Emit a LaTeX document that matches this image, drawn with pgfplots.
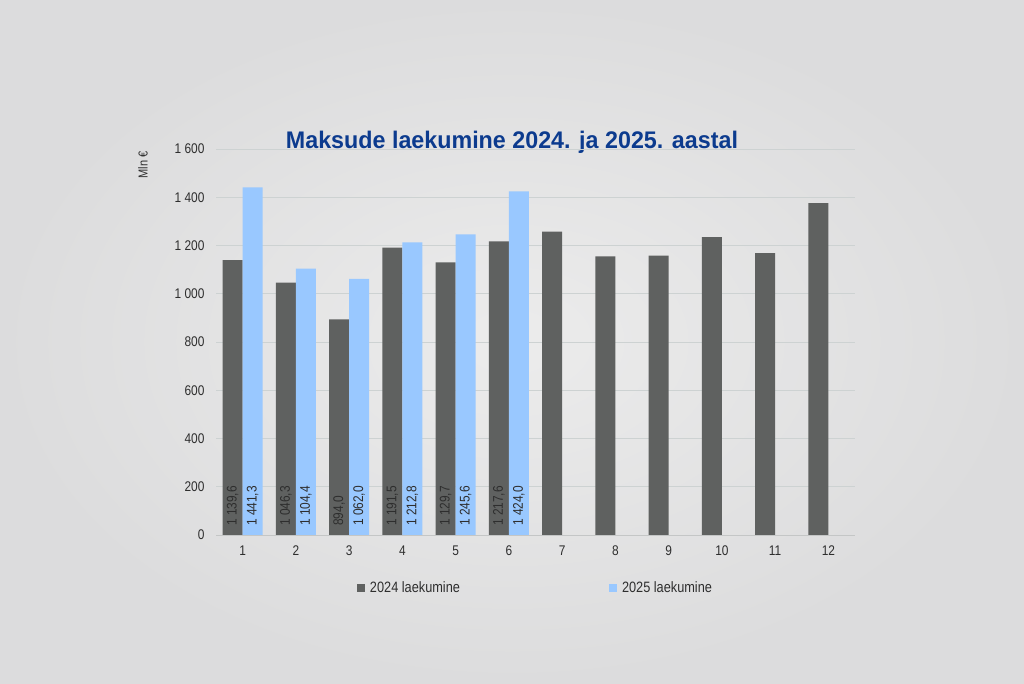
\documentclass[border=0pt]{standalone}
\usepackage{pgfplots}
\pgfplotsset{compat=1.18}
\usepackage{pgfplotstable}
\usepackage{fontspec}
\setmainfont[FakeStretch=0.85]{Liberation Sans}
\newfontfamily\titlefont[FakeStretch=0.97]{Liberation Sans}

\definecolor{dark24}{HTML}{5F6160}
\definecolor{blue25}{HTML}{99C8FF}
\definecolor{titleblue}{HTML}{0C3B8E}
\definecolor{gridc}{HTML}{CDD2D2}
\definecolor{axisc}{HTML}{C4C6C6}
\definecolor{bgin}{HTML}{ECECEC}
\definecolor{bgout}{HTML}{DCDCDD}
\definecolor{txt}{HTML}{2E2E2E}

% Mln EUR per month
\pgfplotstableread{
m v
1 1139.6
2 1046.3
3 894.0
4 1191.5
5 1129.7
6 1217.6
7 1257
8 1155
9 1158
10 1235
11 1168
12 1376
}\tabA
\pgfplotstableread{
m v
1 1441.3
2 1104.4
3 1062.0
4 1212.8
5 1245.6
6 1424.0
}\tabB
% labels sit at the bar base
\pgfplotstableread{
m z a b
1 0 1139.6 1441.3
2 0 1046.3 1104.4
3 0 894.0 1062.0
4 0 1191.5 1212.8
5 0 1129.7 1245.6
6 0 1217.6 1424.0
}\tabL

\pgfplotsset{
  barlabel/.style={
    draw=none, fill=none, forget plot, point meta=explicit,
    nodes near coords={\pgfmathprintnumber[fixed, fixed zerofill, precision=1,
      use comma, 1000 sep={\ }, assume math mode=true]{\pgfplotspointmeta}},
    every node near coord/.append style={font=\fontsize{14}{16}\selectfont,
      text=txt, rotate=90, anchor=west, inner xsep=9pt, inner ysep=0pt},
  },
}

\begin{document}
\begin{tikzpicture}[x=1pt,y=1pt]
\shade[inner color=bgin, outer color=bgout] (0,0) rectangle (1024,683);
\node[font=\titlefont\bfseries\fontsize{24}{27}\selectfont, text=titleblue] at (512,541) {Maksude laekumine 2024. ja 2025. aastal};
\node[rotate=90, font=\fontsize{13}{15}\selectfont, text=txt] at (143,518) {Mln €};
\begin{axis}[
  at={(216pt,148pt)}, anchor=south west,
  width=639pt, height=386pt, scale only axis,
  xmin=0.5, xmax=12.5, ymin=0, ymax=1600,
  ybar, bar width=20pt,
  xtick={1,...,12}, ytick distance=200,
  ymajorgrids, grid style={gridc, line width=0.8pt},
  major tick length=0pt,
  axis line style={draw=none},
  ticklabel style={font=\fontsize{14}{16}\selectfont, text=txt},
  yticklabel style={xshift=-8pt},
  xticklabel style={yshift=-7pt},
  /pgf/number format/1000 sep={\ },
  /pgf/number format/assume math mode=true,
  legend style={at={(0.5,-0.1365)}, anchor=center, draw=none, fill=none,
    legend columns=2, font=\fontsize{15}{17}\selectfont, text=txt,
    /tikz/every even column/.append style={column sep=147pt}},
  legend image code/.code={\fill[#1] (0pt,-4pt) rectangle (8pt,4pt); \path (11pt,0pt);},
]
\addplot[fill=dark24, draw=none, bar shift=-10pt] table[x=m, y=v] {\tabA};
\addplot[fill=blue25, draw=none, bar shift=10pt] table[x=m, y=v] {\tabB};
\legend{2024 laekumine, 2025 laekumine}
\addplot[barlabel, bar shift=-10pt] table[x=m, y=z, meta=a] {\tabL};
\addplot[barlabel, bar shift=10pt] table[x=m, y=z, meta=b] {\tabL};
\draw[axisc, line width=0.9pt] (axis cs:0.5,0) -- (axis cs:12.5,0);
\end{axis}
\end{tikzpicture}
\end{document}
